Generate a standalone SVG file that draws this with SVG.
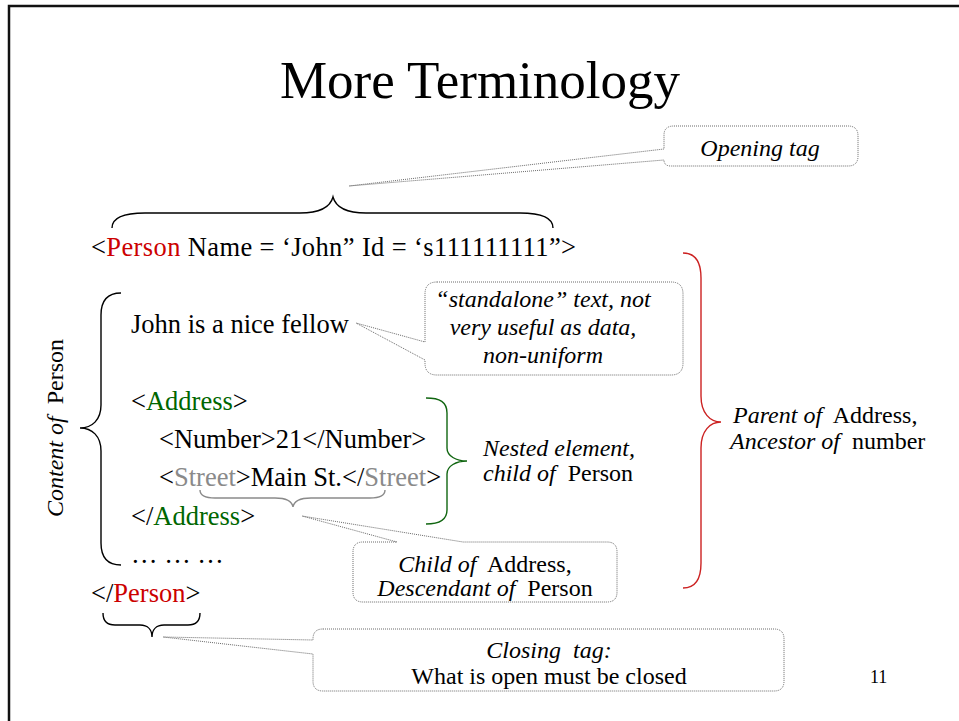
<svg xmlns="http://www.w3.org/2000/svg" width="959" height="721" viewBox="0 0 959 721">
<style>
text{font-family:"Liberation Serif","Times New Roman",serif;fill:#000}
.title{font-size:53px}
.code{font-size:26.5px}
.lab{font-size:24px}
.it{font-style:italic}
.red{fill:#cc0000}
.green{fill:#006600}
.gray{fill:#8a8a8a}
.brace{fill:none;stroke-width:1.4}
.callout{fill:#fff;stroke:#6a6a6a;stroke-width:1;stroke-dasharray:1 1}
</style>
<rect width="959" height="721" fill="#fff"/>
<path d="M9,721 V6 H959" fill="none" stroke="#111" stroke-width="2.5"/>
<g id="title"><text class="title" x="480" y="98" text-anchor="middle">More Terminology</text></g>

<g id="code" xml:space="preserve">
<text class="code" x="91" y="256" textLength="485" lengthAdjust="spacing">&lt;<tspan class="red">Person</tspan>  Name = ‘John”  Id = ‘s111111111”&gt;</text>
<text class="code" x="131" y="333">John is a nice fellow</text>
<text class="code" x="131" y="410">&lt;<tspan class="green">Address</tspan>&gt;</text>
<text class="code" x="159" y="448">&lt;Number&gt;21&lt;/Number&gt;</text>
<text class="code" x="159" y="486">&lt;<tspan class="gray">Street</tspan>&gt;Main St.&lt;/<tspan class="gray">Street</tspan>&gt;</text>
<text class="code" x="131" y="525">&lt;/<tspan class="green">Address</tspan>&gt;</text>
<text class="code" x="131" y="563">… … …</text>
<text class="code" x="91" y="602">&lt;/<tspan class="red">Person</tspan>&gt;</text>
</g>

<g id="connectors">
<path class="brace" stroke="#000" d="M112,228 C112,218 124,213 145,213 H300 C318,213 330,208 333,197 C336,208 348,213 366,213 H520 C541,213 553,218 553,228"/>
<path class="brace" stroke="#000" d="M121,293 C108,293 101,300 101,315 V405 C101,420 92,428 80,428 C92,428 101,436 101,451 V543 C101,558 108,565 121,565"/>
<path class="brace" stroke="#cc2222" d="M683,253 C695,253 701,262 701,278 V396 C701,413 710,422 721,422 C710,422 701,431 701,448 V563 C701,579 695,588 683,588"/>
<path class="brace" stroke="#116611" d="M426,398 C440,398 447,402 447,413 V448 C447,456 456,461 467,461 C456,461 447,466 447,474 V510 C447,520 440,524 426,524"/>
<path class="brace" stroke="#8a8a8a" d="M200,490 C200,495 205,498 215,498 H275 C285,498 292,501 293,507 C294,501 301,498 311,498 H370 C380,498 385,495 385,490"/>
<path class="brace" stroke="#000" d="M103,613 C103,620 106,625 115,625 H140 C148,625 152,630 152,637 C152,630 156,625 164,625 H188 C197,625 200,620 200,613"/>
</g>

<g id="content-label">
<text class="lab" transform="translate(63,428) rotate(-90)" text-anchor="middle" xml:space="preserve"><tspan class="it">Content of</tspan>  Person</text>
</g>

<g id="callout-opening">
<path class="callout" d="M674,126 H848 Q858,126 858,136 V156 Q858,166 848,166 H671 Q664,166 664,160 L349,186 L664,149 V135 Q664,126 674,126 Z"/>
<text class="lab it" x="760" y="156" text-anchor="middle">Opening tag</text>
</g>

<g id="callout-standalone">
<path class="callout" d="M437,282 H671 Q683,282 683,294 V363 Q683,375 671,375 H437 Q425,375 425,363 V360 L356,323 L425,342 V294 Q425,282 437,282 Z"/>
<text class="lab it" x="543" y="307" text-anchor="middle">“standalone” text, not</text>
<text class="lab it" x="543" y="335" text-anchor="middle">very useful as data,</text>
<text class="lab it" x="543" y="363" text-anchor="middle">non-uniform</text>
</g>

<g id="label-nested">
<text class="lab" x="483" y="456"><tspan class="it">Nested element,</tspan></text>
<text class="lab" x="483" y="481" xml:space="preserve"><tspan class="it">child of</tspan>  Person</text>
</g>

<g id="label-parent">
<text class="lab" x="733" y="423" xml:space="preserve"><tspan class="it">Parent of</tspan>  Address,</text>
<text class="lab" x="730" y="449" xml:space="preserve"><tspan class="it">Ancestor of</tspan>  number</text>
</g>

<g id="callout-child">
<path class="callout" d="M363,542 H397 L302,516 L463,542 H607 Q617,542 617,552 V592 Q617,602 607,602 H363 Q353,602 353,592 V552 Q353,542 363,542 Z"/>
<text class="lab" x="485" y="572" text-anchor="middle" xml:space="preserve"><tspan class="it">Child of</tspan>  Address,</text>
<text class="lab" x="485" y="596" text-anchor="middle" xml:space="preserve"><tspan class="it">Descendant of</tspan>  Person</text>
</g>

<g id="callout-closing">
<path class="callout" d="M323,629 H774 Q784,629 784,639 V681 Q784,691 774,691 H323 Q313,691 313,681 V654 L163,637 L313,640 V639 Q313,629 323,629 Z"/>
<text class="lab it" x="549" y="658" text-anchor="middle" xml:space="preserve">Closing  tag:</text>
<text class="lab" x="549" y="684" text-anchor="middle">What is open must be closed</text>
</g>

<g id="page-number"><text x="870" y="683" font-size="18">11</text></g>
</svg>
